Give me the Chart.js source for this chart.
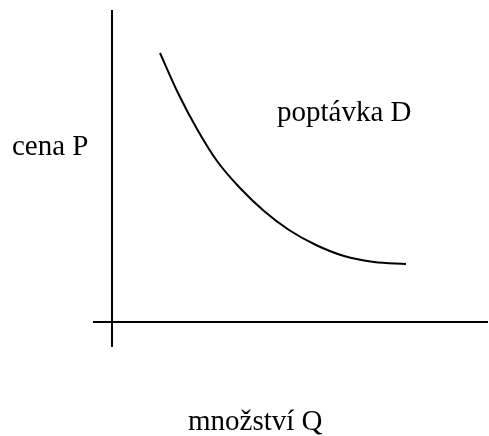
<!DOCTYPE html>
<html>
<head>
<meta charset="utf-8">
<script src="https://cdn.jsdelivr.net/npm/chart.js@4/dist/chart.umd.min.js"></script>
<style>
  html, body { margin: 0; padding: 0; background: #fff; }
  #wrap { width: 489px; height: 436px; position: relative; }
</style>
</head>
<body>
<div id="wrap"><canvas id="c"></canvas></div>
<script>
// Demand curve: quantity Q on the horizontal axis, price P on the vertical axis
const demandQ = [4.8, 6.6, 8.5, 10.5, 12.8, 15.2, 17.7, 20.4, 23.2, 26.2, 29.4];
const demandP = [26.9, 22.9, 19.3, 16.1, 13.4, 11.1, 9.2, 7.7, 6.6, 6.0, 5.8];

// Axis lines (they run a little past the origin, forming a cross)
const priceAxisQ = [0, 0];
const priceAxisP = [31.2, -2.5];
const quantityAxisQ = [-1.9, 37.6];
const quantityAxisP = [0, 0];

// Text labels and where they sit (data coordinates)
const labelTexts = ['cena P', 'poptávka D', 'množství Q'];
const labelQ = [-10.0, 16.5, 7.6];
const labelP = [16.7, 20.1, -10.8];

const zip = (xs, ys) => xs.map((x, i) => ({ x, y: ys[i] }));

const textLabels = {
  id: 'textLabels',
  afterDatasetsDraw(chart) {
    const { ctx, scales } = chart;
    ctx.save();
    ctx.fillStyle = '#000';
    ctx.font = '29px "Liberation Serif", "Times New Roman", serif';
    ctx.textAlign = 'left';
    ctx.textBaseline = 'alphabetic';
    labelTexts.forEach((t, i) => {
      ctx.fillText(t, scales.x.getPixelForValue(labelQ[i]), scales.y.getPixelForValue(labelP[i]));
    });
    ctx.restore();
  }
};

const lineStyle = { showLine: true, borderColor: '#000', borderWidth: 2, pointRadius: 0, fill: false };

new Chart(document.getElementById('c'), {
  type: 'scatter',
  data: {
    datasets: [
      { ...lineStyle, data: zip(priceAxisQ, priceAxisP) },
      { ...lineStyle, data: zip(quantityAxisQ, quantityAxisP) },
      { ...lineStyle, data: zip(demandQ, demandP), cubicInterpolationMode: 'monotone' }
    ]
  },
  options: {
    responsive: true,
    maintainAspectRatio: false,
    animation: false,
    layout: { padding: 0 },
    plugins: { legend: { display: false }, tooltip: { enabled: false } },
    scales: {
      x: { type: 'linear', min: -11.2, max: 37.7, display: false },
      y: { type: 'linear', min: -11.4, max: 32.2, display: false }
    }
  },
  plugins: [textLabels]
});
</script>
</body>
</html>
